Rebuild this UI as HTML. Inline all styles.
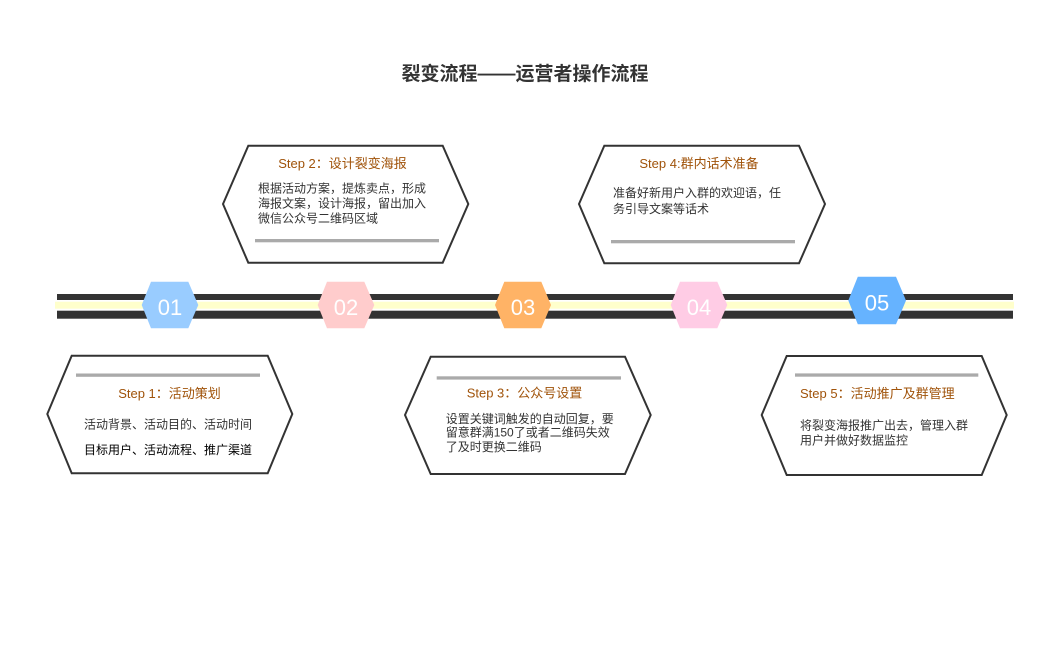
<!DOCTYPE html>
<html><head><meta charset="utf-8"><style>
html,body{margin:0;padding:0;background:#fff;}
svg{display:block;}
text{font-family:"Liberation Sans","Noto Sans CJK SC",sans-serif;}
</style></head><body>
<svg width="1047" height="672" viewBox="0 0 1047 672" xmlns="http://www.w3.org/2000/svg">
<rect width="1047" height="672" fill="#fff"/>
<text x="525" y="80" font-size="19" font-weight="bold" fill="#333" text-anchor="middle">裂变流程——运营者操作流程</text>

<!-- timeline -->
<rect x="57" y="294" width="956" height="6" fill="#333"/>
<rect x="55" y="301.7" width="959" height="7" fill="#ffffcc"/>
<rect x="57" y="310.7" width="956" height="8" fill="#333"/>

<!-- hexagons -->
<polygon points="141.7,305 151,281.7 188.3,281.7 198.3,305 188.3,328.3 151,328.3" fill="#99ccff"/>
<polygon points="317.7,305 327,281.7 364.3,281.7 374.3,305 364.3,328.3 327,328.3" fill="#ffcccc"/>
<polygon points="495,305 504.3,281.7 541.3,281.7 551,305 541.3,328.3 504.3,328.3" fill="#ffb366"/>
<polygon points="670.7,305 680,281.7 717.3,281.7 727.3,305 717.3,328.3 680,328.3" fill="#ffcce5"/>
<polygon points="848.3,300.5 857.8,276.7 896,276.7 906,300.5 896,324.3 857.8,324.3" fill="#66b3ff"/>
<g font-size="22" fill="#fff" text-anchor="middle">
<text x="170" y="315">01</text>
<text x="346" y="315">02</text>
<text x="523" y="315">03</text>
<text x="699" y="315">04</text>
<text x="877" y="310.7">05</text>
</g>

<!-- boxes -->
<g fill="#fff" stroke="#333" stroke-width="2" stroke-linejoin="miter">
<polygon points="47.3,414 71.7,355.7 267.7,355.7 292.3,414 267.7,473.3 71.7,473.3"/>
<polygon points="223,204 248.3,145.7 442.7,145.7 468.3,204 442.7,262.7 248.3,262.7"/>
<polygon points="405,415 430.7,356.7 625,356.7 650.7,415 625,474 430.7,474"/>
<polygon points="579,204 604.3,145.7 799,145.7 825,204 799,263.3 604.3,263.3"/>
<polygon points="761.7,415 786.7,356 981.7,356 1006.7,415 981.7,475 786.7,475"/>
</g>
<g fill="#aaa">
<rect x="76" y="373.5" width="184" height="3.3"/>
<rect x="255" y="239" width="184" height="3.3"/>
<rect x="436.7" y="376.3" width="184.3" height="3.3"/>
<rect x="611" y="240" width="184" height="3.3"/>
<rect x="795" y="373.4" width="183.3" height="3.3"/>
</g>

<!-- titles -->
<g font-size="13" fill="#a0530a">
<text x="169.5" y="398" text-anchor="middle">Step 1：活动策划</text>
<text x="342.5" y="168" text-anchor="middle">Step 2：设计裂变海报</text>
<text x="524.5" y="397.5" text-anchor="middle">Step 3：公众号设置</text>
<text x="699" y="168" text-anchor="middle">Step 4:群内话术准备</text>
<text x="800" y="398">Step 5：活动推广及群管理</text>
</g>

<!-- body -->
<g font-size="12" fill="#333">
<text x="168" y="428.5" text-anchor="middle">活动背景、活动目的、活动时间</text>
<text x="168" y="454" text-anchor="middle" fill="#000">目标用户、活动流程、推广渠道</text>

<text x="258" y="192.5">根据活动方案，提炼卖点，形成</text>
<text x="258" y="207.5">海报文案，设计海报，留出加入</text>
<text x="258" y="222.5">微信公众号二维码区域</text>

<text x="445.7" y="423">设置关键词触发的自动回复，要</text>
<text x="445.7" y="436.5">留意群满150了或者二维码失效</text>
<text x="445.7" y="451">了及时更换二维码</text>

<text x="613" y="197">准备好新用户入群的欢迎语，任</text>
<text x="613" y="213">务引导文案等话术</text>

<text x="800" y="429.5">将裂变海报推广出去，管理入群</text>
<text x="800" y="444.5">用户并做好数据监控</text>
</g>
</svg>
</body></html>
